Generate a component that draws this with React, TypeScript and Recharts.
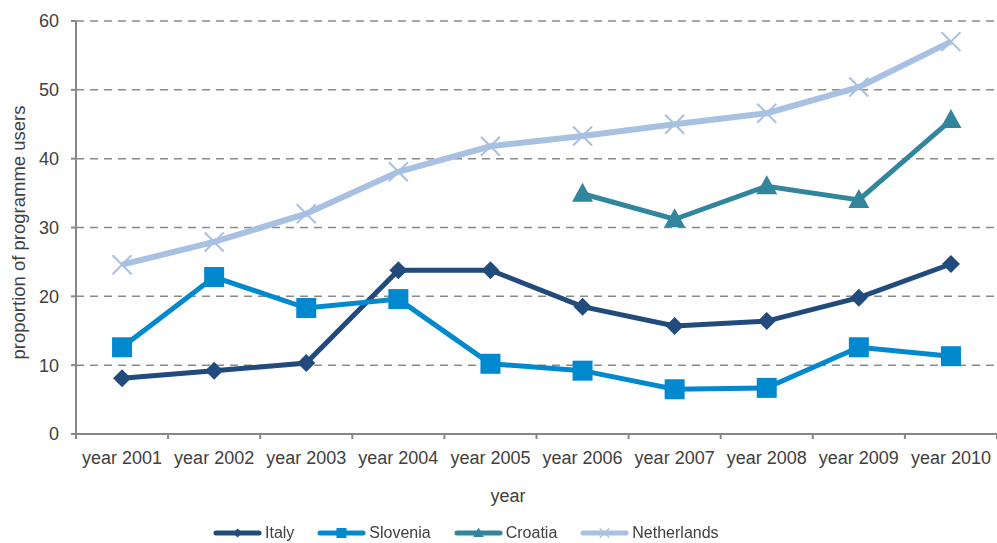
import React from 'react';
import { LineChart, Line, XAxis, YAxis, CartesianGrid, Legend, Label } from 'recharts';

const years = ['year 2001', 'year 2002', 'year 2003', 'year 2004', 'year 2005', 'year 2006', 'year 2007', 'year 2008', 'year 2009', 'year 2010'];
const italy = [8.1, 9.2, 10.3, 23.8, 23.8, 18.5, 15.7, 16.4, 19.8, 24.7];
const slovenia = [12.6, 22.8, 18.3, 19.6, 10.2, 9.2, 6.5, 6.7, 12.6, 11.3];
const croatia: (number | null)[] = [null, null, null, null, null, 34.9, 31.2, 36.0, 34.0, 45.6];
const netherlands = [24.6, 27.9, 32.0, 38.1, 41.8, 43.3, 45.0, 46.6, 50.4, 57.0];
const yTicks = [0, 10, 20, 30, 40, 50, 60];
const seriesOrder = ['Italy', 'Slovenia', 'Croatia', 'Netherlands'];

const COLORS = {
  Italy: '#214A7D',
  Slovenia: '#0089CF',
  Croatia: '#31859C',
  Netherlands: '#A8C0E1',
};

const data = years.map((y, i) => ({
  year: y,
  Italy: italy[i],
  Slovenia: slovenia[i],
  Croatia: croatia[i],
  Netherlands: netherlands[i],
}));

const FONT = '"Liberation Sans", Arial, sans-serif';
const TEXT = '#404040';
const GRAY = '#878787';

function marker(kind: string, cx: number, cy: number, color: string, key?: any, s: number = 1) {
  if (kind === 'diamond') {
    const r = 9 * s;
    return <path key={key} d={`M${cx},${cy - r}L${cx + r},${cy}L${cx},${cy + r}L${cx - r},${cy}Z`} fill={color} />;
  }
  if (kind === 'square') {
    const r = 10 * s;
    return <rect key={key} x={cx - r} y={cy - r} width={2 * r} height={2 * r} fill={color} />;
  }
  if (kind === 'triangle') {
    const w = 10.5 * s;
    return <path key={key} d={`M${cx},${cy - 11 * s}L${cx + w},${cy + 8 * s}L${cx - w},${cy + 8 * s}Z`} fill={color} />;
  }
  const r = 9.5 * s;
  return (
    <g key={key} stroke={color} strokeWidth={2 * Math.max(s, 0.6)}>
      <line x1={cx - r} y1={cy - r} x2={cx + r} y2={cy + r} />
      <line x1={cx - r} y1={cy + r} x2={cx + r} y2={cy - r} />
    </g>
  );
}

const makeDot = (kind: string, color: string) => (props: any) => {
  const { cx, cy, index, value } = props;
  if (value == null || cx == null || cy == null || isNaN(cy)) return <g key={`e-${index}`} />;
  return marker(kind, cx, cy, color, `d-${index}`);
};

const KINDS: Record<string, string> = {
  Italy: 'diamond',
  Slovenia: 'square',
  Croatia: 'triangle',
  Netherlands: 'cross',
};

const XTick = (props: any) => {
  const { x, y, payload, index, visibleTicksCount } = props;
  const off = payload.offset || 0;
  const last = index === (visibleTicksCount ?? 10) - 1;
  return (
    <g>
      <line x1={x - off} x2={x - off} y1={y} y2={y + 5} stroke={GRAY} strokeWidth={2} />
      {last && <line x1={x + off} x2={x + off} y1={y} y2={y + 5} stroke={GRAY} strokeWidth={2} />}
      <text x={x} y={y + 30} textAnchor="middle" fill={TEXT} fontSize={18} fontFamily={FONT}>
        {payload.value}
      </text>
    </g>
  );
};

const renderLegend = (props: any) => {
  const payload = [...(props.payload || [])].sort(
    (a: any, b: any) => seriesOrder.indexOf(a.value) - seriesOrder.indexOf(b.value)
  );
  return (
    <div style={{ display: 'flex', alignItems: 'center', height: 22, paddingLeft: 213, fontFamily: FONT, fontSize: 16, color: TEXT }}>
      {payload.map((p: any) => {
        const name = p.value as string;
        const color = p.color;
        return (
          <div key={name} style={{ display: 'flex', alignItems: 'center', marginRight: 23 }}>
            <svg width={49} height={22} style={{ display: 'block' }}>
              <line x1={3} x2={46} y1={11} y2={11} stroke={color} strokeWidth={5} strokeLinecap="round" />
              {marker(KINDS[name], 24.5, 11, color, undefined, 0.5)}
            </svg>
            <span style={{ marginLeft: 3, lineHeight: '22px' }}>{name}</span>
          </div>
        );
      })}
    </div>
  );
};

export default function App() {
  return (
    <div style={{ position: 'fixed', left: 0, top: 0, width: 997, height: 543, background: '#fff' }}>
      <LineChart width={997} height={543} data={data} margin={{ top: 21, right: 0, bottom: 27, left: 0 }}>
        <CartesianGrid vertical={false} stroke="#8a8a8a" strokeWidth={1.5} strokeDasharray="8 6" />
        <XAxis
          dataKey="year"
          scale="band"
          height={60}
          tickLine={false}
          tickSize={0}
          tickMargin={0}
          interval={0}
          axisLine={{ stroke: GRAY, strokeWidth: 2 }}
          tick={<XTick />}
        >
          <Label
            content={(p: any) => {
              const vb = p.viewBox || {};
              return (
                <text x={508} y={vb.y + 68} textAnchor="middle" fill={TEXT} fontSize={18} fontFamily={FONT}>
                  year
                </text>
              );
            }}
          />
        </XAxis>
        <YAxis
          domain={[0, 60]}
          ticks={yTicks}
          width={76}
          tickSize={5}
          tickMargin={12}
          tickLine={{ stroke: GRAY, strokeWidth: 2 }}
          axisLine={{ stroke: GRAY, strokeWidth: 2 }}
          tick={{ fill: TEXT, fontSize: 18, fontFamily: FONT }}
        >
          <Label
            content={(p: any) => {
              const vb = p.viewBox || {};
              const cx = 18;
              const cy = vb.y + vb.height / 2 + 5;
              return (
                <text x={cx} y={cy} transform={`rotate(-90 ${cx} ${cy})`} textAnchor="middle" dominantBaseline="central" fill={TEXT} fontSize={18.5} fontFamily={FONT}>
                  proportion of programme users
                </text>
              );
            }}
          />
        </YAxis>
        <Legend
          content={renderLegend}
          verticalAlign="bottom"
          wrapperStyle={{ position: 'absolute', left: 0, top: 522, width: 997, height: 22 }}
        />
        <Line dataKey="Italy" stroke={COLORS.Italy} strokeWidth={5} dot={makeDot('diamond', COLORS.Italy)} activeDot={false} isAnimationActive={false} />
        <Line dataKey="Slovenia" stroke={COLORS.Slovenia} strokeWidth={5} dot={makeDot('square', COLORS.Slovenia)} activeDot={false} isAnimationActive={false} />
        <Line dataKey="Croatia" stroke={COLORS.Croatia} strokeWidth={5} dot={makeDot('triangle', COLORS.Croatia)} activeDot={false} isAnimationActive={false} />
        <Line dataKey="Netherlands" stroke={COLORS.Netherlands} strokeWidth={6} dot={makeDot('cross', COLORS.Netherlands)} activeDot={false} isAnimationActive={false} />
      </LineChart>
    </div>
  );
}
